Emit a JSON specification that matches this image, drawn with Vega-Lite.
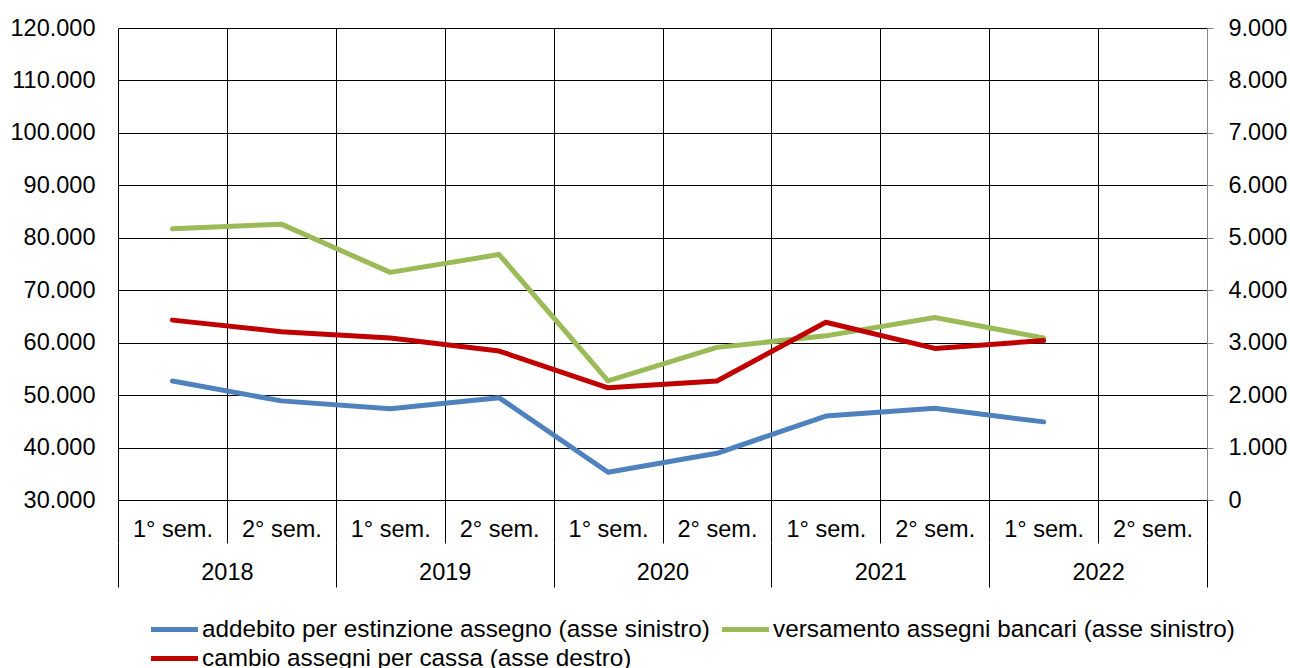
{
  "$schema": "https://vega.github.io/schema/vega-lite/v6.json",
  "width": 1089,
  "height": 472,
  "autosize": "none",
  "padding": {"left": 118, "top": 28, "right": 83, "bottom": 168},
  "config": {
    "font": "Liberation Sans",
    "view": {"stroke": null},
    "axis": {"labelFont": "Liberation Sans", "labelFontSize": 23.5, "labelColor": "#000", "title": null},
    "legend": {"labelFont": "Liberation Sans", "labelFontSize": 24.3, "labelColor": "#000"}
  },
  "data": {
    "values": [
      {"i": 0, "anno": 2018, "sem": "1° sem.", "serie": "addebito per estinzione assegno (asse sinistro)", "asse": "sx", "valore": 52700},
      {"i": 1, "anno": 2018, "sem": "2° sem.", "serie": "addebito per estinzione assegno (asse sinistro)", "asse": "sx", "valore": 48900},
      {"i": 2, "anno": 2019, "sem": "1° sem.", "serie": "addebito per estinzione assegno (asse sinistro)", "asse": "sx", "valore": 47400},
      {"i": 3, "anno": 2019, "sem": "2° sem.", "serie": "addebito per estinzione assegno (asse sinistro)", "asse": "sx", "valore": 49500},
      {"i": 4, "anno": 2020, "sem": "1° sem.", "serie": "addebito per estinzione assegno (asse sinistro)", "asse": "sx", "valore": 35300},
      {"i": 5, "anno": 2020, "sem": "2° sem.", "serie": "addebito per estinzione assegno (asse sinistro)", "asse": "sx", "valore": 38900},
      {"i": 6, "anno": 2021, "sem": "1° sem.", "serie": "addebito per estinzione assegno (asse sinistro)", "asse": "sx", "valore": 46000},
      {"i": 7, "anno": 2021, "sem": "2° sem.", "serie": "addebito per estinzione assegno (asse sinistro)", "asse": "sx", "valore": 47500},
      {"i": 8, "anno": 2022, "sem": "1° sem.", "serie": "addebito per estinzione assegno (asse sinistro)", "asse": "sx", "valore": 44900},
      {"i": 0, "anno": 2018, "sem": "1° sem.", "serie": "versamento assegni bancari (asse sinistro)", "asse": "sx", "valore": 81700},
      {"i": 1, "anno": 2018, "sem": "2° sem.", "serie": "versamento assegni bancari (asse sinistro)", "asse": "sx", "valore": 82600},
      {"i": 2, "anno": 2019, "sem": "1° sem.", "serie": "versamento assegni bancari (asse sinistro)", "asse": "sx", "valore": 73400},
      {"i": 3, "anno": 2019, "sem": "2° sem.", "serie": "versamento assegni bancari (asse sinistro)", "asse": "sx", "valore": 76800},
      {"i": 4, "anno": 2020, "sem": "1° sem.", "serie": "versamento assegni bancari (asse sinistro)", "asse": "sx", "valore": 52700},
      {"i": 5, "anno": 2020, "sem": "2° sem.", "serie": "versamento assegni bancari (asse sinistro)", "asse": "sx", "valore": 59100},
      {"i": 6, "anno": 2021, "sem": "1° sem.", "serie": "versamento assegni bancari (asse sinistro)", "asse": "sx", "valore": 61300},
      {"i": 7, "anno": 2021, "sem": "2° sem.", "serie": "versamento assegni bancari (asse sinistro)", "asse": "sx", "valore": 64800},
      {"i": 8, "anno": 2022, "sem": "1° sem.", "serie": "versamento assegni bancari (asse sinistro)", "asse": "sx", "valore": 60900},
      {"i": 0, "anno": 2018, "sem": "1° sem.", "serie": "cambio assegni per cassa (asse destro)", "asse": "dx", "valore": 3430},
      {"i": 1, "anno": 2018, "sem": "2° sem.", "serie": "cambio assegni per cassa (asse destro)", "asse": "dx", "valore": 3210},
      {"i": 2, "anno": 2019, "sem": "1° sem.", "serie": "cambio assegni per cassa (asse destro)", "asse": "dx", "valore": 3090},
      {"i": 3, "anno": 2019, "sem": "2° sem.", "serie": "cambio assegni per cassa (asse destro)", "asse": "dx", "valore": 2840},
      {"i": 4, "anno": 2020, "sem": "1° sem.", "serie": "cambio assegni per cassa (asse destro)", "asse": "dx", "valore": 2140},
      {"i": 5, "anno": 2020, "sem": "2° sem.", "serie": "cambio assegni per cassa (asse destro)", "asse": "dx", "valore": 2270},
      {"i": 6, "anno": 2021, "sem": "1° sem.", "serie": "cambio assegni per cassa (asse destro)", "asse": "dx", "valore": 3390},
      {"i": 7, "anno": 2021, "sem": "2° sem.", "serie": "cambio assegni per cassa (asse destro)", "asse": "dx", "valore": 2890},
      {"i": 8, "anno": 2022, "sem": "1° sem.", "serie": "cambio assegni per cassa (asse destro)", "asse": "dx", "valore": 3040}
    ]
  },
  "layer": [
    {
      "transform": [{"filter": "datum.asse == 'sx'"}],
      "mark": {"type": "line", "strokeWidth": 5, "strokeCap": "round", "strokeJoin": "round"},
      "encoding": {
        "x": {
          "field": "i", "type": "quantitative",
          "scale": {"domain": [-0.5, 9.5], "nice": false, "zero": false},
          "axis": {
            "values": [-0.5, 0, 0.5, 1, 1.5, 2, 2.5, 3, 3.5, 4, 4.5, 5, 5.5, 6, 6.5, 7, 7.5, 8, 8.5, 9, 9.5],
            "grid": true, "gridColor": "#000", "gridWidth": 1,
            "gridOpacity": {"condition": {"test": "datum.value % 1 == 0", "value": 0}, "value": 1},
            "domain": true, "domainColor": "#000", "domainWidth": 1,
            "ticks": true, "tickColor": "#000", "tickSize": 43, "tickWidth": 1,
            "tickOpacity": {"condition": {"test": "datum.value % 1 == 0", "value": 0}, "value": 1},
            "labelExpr": "datum.value % 1 != 0 ? '' : (datum.value % 2 == 0 ? '1° sem.' : '2° sem.')",
            "labelPadding": -14, "labelBaseline": "middle", "labelFlush": false, "labelOverlap": false, "labelBound": false
          }
        },
        "y": {
          "field": "valore", "type": "quantitative",
          "scale": {"domain": [30000, 120000], "nice": false, "zero": false},
          "axis": {
            "values": [30000, 40000, 50000, 60000, 70000, 80000, 90000, 100000, 110000, 120000],
            "grid": true, "gridColor": "#000", "gridWidth": 1,
            "domain": false, "ticks": false, "labelPadding": 23,
            "labelExpr": "replace(format(datum.value, ','), ',', '.')"
          }
        },
        "color": {
          "field": "serie", "type": "nominal",
          "scale": {
            "domain": ["addebito per estinzione assegno (asse sinistro)", "versamento assegni bancari (asse sinistro)", "cambio assegni per cassa (asse destro)"],
            "range": ["#4F81BD", "#9BBB59", "#C00000"]
          },
          "legend": {
            "orient": "none", "legendX": 42, "legendY": 587, "title": null,
            "columns": 2, "direction": "horizontal",
            "symbolType": "M-2,0L2,0", "symbolSize": 552, "symbolStrokeWidth": 5,
            "labelOffset": 13, "labelLimit": 700, "columnPadding": 2, "rowPadding": 2, "padding": 0
          }
        }
      }
    },
    {
      "transform": [{"filter": "datum.asse == 'dx'"}],
      "mark": {"type": "line", "strokeWidth": 5, "strokeCap": "round", "strokeJoin": "round"},
      "encoding": {
        "x": {
          "field": "i", "type": "quantitative",
          "scale": {"domain": [-0.5, 9.5], "nice": false, "zero": false},
          "axis": {
            "orient": "bottom", "offset": 43,
            "values": [-0.5, 0.5, 1.5, 2.5, 3.5, 4.5, 5.5, 6.5, 7.5, 8.5, 9.5],
            "grid": false, "domain": false,
            "ticks": true, "tickColor": "#000", "tickSize": 44, "tickWidth": 1,
            "tickOpacity": {"condition": {"test": "(datum.value + 0.5) % 2 == 0", "value": 1}, "value": 0},
            "labelExpr": "(datum.value + 0.5) % 2 == 1 ? toString(2018 + (datum.value - 0.5) / 2) : ''",
            "labelPadding": -15, "labelBaseline": "middle", "labelFlush": false, "labelOverlap": false, "labelBound": false
          }
        },
        "y": {
          "field": "valore", "type": "quantitative",
          "scale": {"domain": [0, 9000], "nice": false, "zero": true},
          "axis": {
            "orient": "right",
            "values": [0, 1000, 2000, 3000, 4000, 5000, 6000, 7000, 8000, 9000],
            "grid": false, "domain": true, "domainColor": "#888", "domainWidth": 1,
            "ticks": true, "tickColor": "#888", "tickSize": 6, "labelPadding": 15,
            "labelExpr": "replace(format(datum.value, ','), ',', '.')"
          }
        },
        "color": {"field": "serie", "type": "nominal"}
      }
    }
  ],
  "resolve": {"scale": {"x": "independent", "y": "independent"}, "axis": {"x": "independent", "y": "independent"}}
}
